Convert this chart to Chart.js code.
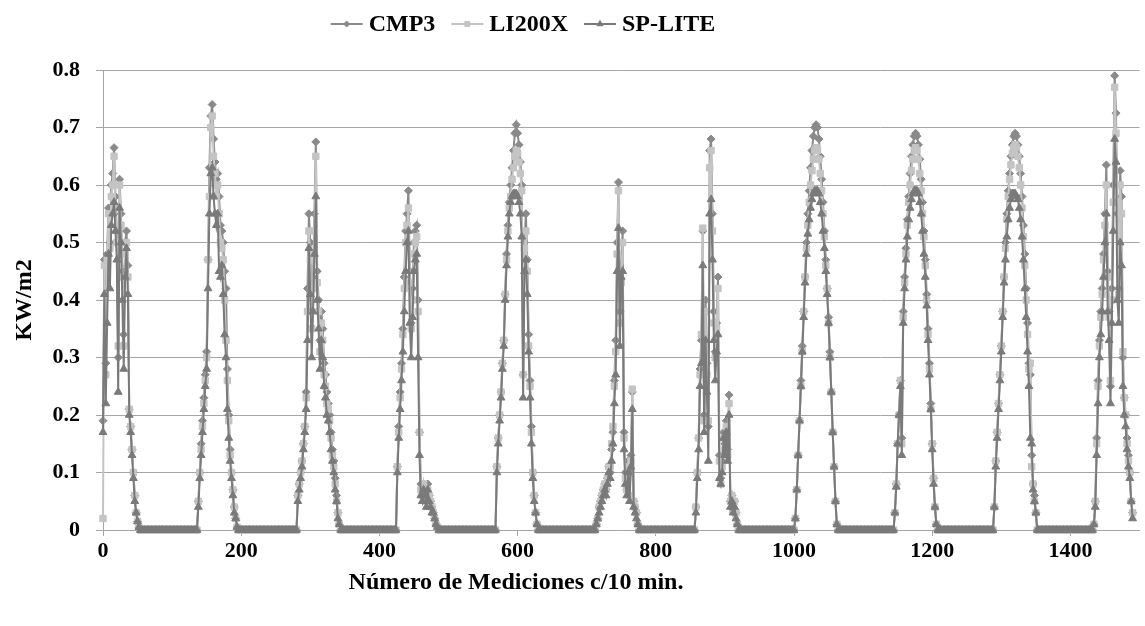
<!DOCTYPE html>
<html>
<head>
<meta charset="utf-8">
<script src="https://cdn.jsdelivr.net/npm/chart.js@4/dist/chart.umd.min.js"></script>
<style>
  html, body { margin: 0; padding: 0; background: #ffffff; }
  #wrap { width: 1145px; height: 626px; position: relative; }
</style>
</head>
<body>
<div id="wrap"><canvas id="chart"></canvas></div>
<script>
// one reading every 2 measurements (x = index * STEP), nights are zero
const STEP = 2;

const seriesNames = ["CMP3", "LI200X", "SP-LITE"];

const cmp3 = [
  0.19,0.47,0.29,0.48,0.56,0.50,0.60,0.62,0.665,0.58,0.52,0.30,0.61,0.55,0.45,0.34,0.50,0.52,0.46,0.21,0.18,0.14,0.10,0.06,0.03,0.015,0.005,0,
  0,0,0,0,0,0,0,0,0,0, 0,0,0,0,0,0,0,0,0,0, 0,0,0,0,0,0,0,0,0,0, 0,0,0,0,0,0,0,0,0,0, 0,
  0.05,0.10,0.15,0.19,0.23,0.27,0.31,0.47,0.63,0.72,0.74,0.68,0.64,0.61,0.62,0.58,0.53,0.52,0.50,0.45,0.42,0.28,0.20,0.14,0.10,0.07,0.04,0.02,0.005,0,0,
  0,0,0,0,0,0,0,0,0,0, 0,0,0,0,0,0,0,0,0,0, 0,0,0,0,0,0,0,0,0,0, 0,0,0,0,0,0,0,0,0,0, 0,
  0.06,0.08,0.10,0.12,0.15,0.18,0.24,0.42,0.55,0.50,0.38,0.44,0.55,0.675,0.45,0.40,0.33,0.38,0.35,0.29,0.27,0.24,0.22,0.20,0.17,0.14,0.12,0.09,0.06,0.03,0.01,
  0,0,0,0,0,0,0,0,0,0, 0,0,0,0,0,0,0,0,0,0, 0,0,0,0,0,0,0,0,0,0, 0,0,0,0,0,0,0,0,0,0, 0,
  0.11,0.18,0.24,0.29,0.35,0.44,0.52,0.55,0.59,0.45,0.36,0.42,0.50,0.52,0.53,0.40,0.17,0.08,0.06,0.08,0.07,0.05,0.08,0.06,0.05,0.04,0.03,0.02,0.01,0.005,0,
  0,0,0,0,0,0,0,0,0,0, 0,0,0,0,0,0,0,0,0,0, 0,0,0,0,0,0,0,0,0,0, 0,0,0,0,0,0,0,0,0,0, 0,
  0.11,0.16,0.20,0.24,0.29,0.33,0.41,0.48,0.53,0.57,0.60,0.63,0.66,0.69,0.705,0.69,0.67,0.64,0.60,0.27,0.50,0.55,0.47,0.34,0.26,0.18,0.10,0.06,0.03,0.01,0,
  0,0,0,0,0,0,0,0,0,0, 0,0,0,0,0,0,0,0,0,0, 0,0,0,0,0,0,0,0,0,0, 0,0,0,0,0,0,0,0,0,0, 0,
  0.01,0.02,0.04,0.05,0.06,0.07,0.08,0.07,0.09,0.11,0.10,0.14,0.17,0.26,0.33,0.50,0.605,0.38,0.45,0.52,0.17,0.10,0.07,0.12,0.06,0.13,0.24,0.05,0.04,0.03,0.01,
  0,0,0,0,0,0,0,0,0,0, 0,0,0,0,0,0,0,0,0,0, 0,0,0,0,0,0,0,0,0,0, 0,0,0,0,0,0,0,0,0,0, 0,
  0.04,0.10,0.16,0.28,0.33,0.52,0.20,0.40,0.29,0.18,0.66,0.68,0.55,0.38,0.31,0.36,0.44,0.13,0.09,0.12,0.17,0.15,0.19,0.14,0.235,0.05,0.06,0.04,0.05,0.03,0.01,
  0,0,0,0,0,0,0,0,0,0, 0,0,0,0,0,0,0,0,0,0, 0,0,0,0,0,0,0,0,0,0, 0,0,0,0,0,0,0,0,0,0, 0,
  0.02,0.07,0.13,0.19,0.26,0.32,0.38,0.44,0.50,0.55,0.59,0.63,0.66,0.685,0.70,0.705,0.70,0.68,0.65,0.61,0.57,0.52,0.47,0.42,0.37,0.31,0.24,0.17,0.11,0.05,0.01,
  0,0,0,0,0,0,0,0,0,0, 0,0,0,0,0,0,0,0,0,0, 0,0,0,0,0,0,0,0,0,0, 0,0,0,0,0,0,0,0,0,0, 0,
  0.03,0.08,0.15,0.20,0.26,0.16,0.38,0.44,0.49,0.54,0.58,0.62,0.65,0.67,0.685,0.69,0.685,0.67,0.645,0.61,0.57,0.52,0.47,0.41,0.35,0.29,0.22,0.15,0.09,0.04,0.01,
  0,0,0,0,0,0,0,0,0,0, 0,0,0,0,0,0,0,0,0,0, 0,0,0,0,0,0,0,0,0,0, 0,0,0,0,0,0,0,0,0,0, 0,
  0.04,0.12,0.17,0.22,0.27,0.32,0.38,0.44,0.50,0.55,0.59,0.62,0.65,0.67,0.685,0.69,0.685,0.67,0.65,0.62,0.58,0.53,0.48,0.42,0.36,0.29,0.27,0.13,0.08,0.06,0.03,
  0,0,0,0,0,0,0,0,0,0, 0,0,0,0,0,0,0,0,0,0, 0,0,0,0,0,0,0,0,0,0, 0,0,0,0,0,0,0,0,0,0, 0,
  0.01,0.05,0.16,0.26,0.33,0.38,0.42,0.48,0.55,0.635,0.45,0.38,0.25,0.42,0.60,0.79,0.725,0.55,0.42,0.625,0.58,0.30,0.23,0.20,0.16,0.13,0.10,0.05,0.03
];

const li200x = [
  0.02,0.46,0.27,0.47,0.55,0.49,0.58,0.60,0.65,0.56,0.50,0.32,0.60,0.53,0.44,0.32,0.48,0.50,0.44,0.21,0.18,0.14,0.10,0.06,0.03,0.015,0.005,0,
  0,0,0,0,0,0,0,0,0,0, 0,0,0,0,0,0,0,0,0,0, 0,0,0,0,0,0,0,0,0,0, 0,0,0,0,0,0,0,0,0,0, 0,
  0.05,0.10,0.14,0.18,0.22,0.26,0.30,0.47,0.58,0.70,0.72,0.65,0.62,0.58,0.60,0.55,0.50,0.49,0.47,0.40,0.33,0.26,0.19,0.13,0.10,0.07,0.04,0.02,0.005,0,0,
  0,0,0,0,0,0,0,0,0,0, 0,0,0,0,0,0,0,0,0,0, 0,0,0,0,0,0,0,0,0,0, 0,0,0,0,0,0,0,0,0,0, 0,
  0.06,0.08,0.10,0.12,0.15,0.18,0.23,0.38,0.52,0.47,0.35,0.42,0.52,0.65,0.43,0.38,0.31,0.36,0.33,0.27,0.25,0.22,0.21,0.19,0.16,0.13,0.11,0.08,0.05,0.03,0.01,
  0,0,0,0,0,0,0,0,0,0, 0,0,0,0,0,0,0,0,0,0, 0,0,0,0,0,0,0,0,0,0, 0,0,0,0,0,0,0,0,0,0, 0,
  0.11,0.17,0.23,0.28,0.34,0.42,0.50,0.53,0.56,0.43,0.35,0.40,0.48,0.50,0.51,0.38,0.17,0.07,0.06,0.08,0.06,0.05,0.07,0.06,0.05,0.04,0.03,0.02,0.01,0.005,0,
  0,0,0,0,0,0,0,0,0,0, 0,0,0,0,0,0,0,0,0,0, 0,0,0,0,0,0,0,0,0,0, 0,0,0,0,0,0,0,0,0,0, 0,
  0.11,0.16,0.20,0.24,0.29,0.33,0.41,0.47,0.52,0.56,0.58,0.61,0.63,0.65,0.66,0.655,0.64,0.62,0.59,0.27,0.49,0.52,0.45,0.32,0.25,0.17,0.10,0.06,0.03,0.01,0,
  0,0,0,0,0,0,0,0,0,0, 0,0,0,0,0,0,0,0,0,0, 0,0,0,0,0,0,0,0,0,0, 0,0,0,0,0,0,0,0,0,0, 0,
  0.01,0.02,0.04,0.05,0.06,0.07,0.08,0.07,0.09,0.11,0.11,0.15,0.18,0.25,0.31,0.48,0.59,0.36,0.43,0.50,0.16,0.09,0.07,0.11,0.06,0.12,0.245,0.05,0.04,0.03,0.01,
  0,0,0,0,0,0,0,0,0,0, 0,0,0,0,0,0,0,0,0,0, 0,0,0,0,0,0,0,0,0,0, 0,0,0,0,0,0,0,0,0,0, 0,
  0.04,0.10,0.16,0.27,0.34,0.525,0.19,0.38,0.27,0.19,0.63,0.66,0.52,0.36,0.30,0.35,0.42,0.12,0.08,0.11,0.16,0.14,0.18,0.13,0.22,0.05,0.06,0.04,0.05,0.03,0.01,
  0,0,0,0,0,0,0,0,0,0, 0,0,0,0,0,0,0,0,0,0, 0,0,0,0,0,0,0,0,0,0, 0,0,0,0,0,0,0,0,0,0, 0,
  0.02,0.07,0.13,0.19,0.25,0.31,0.38,0.44,0.49,0.53,0.57,0.60,0.625,0.645,0.66,0.665,0.66,0.645,0.62,0.59,0.55,0.51,0.46,0.42,0.36,0.30,0.24,0.17,0.11,0.05,0.01,
  0,0,0,0,0,0,0,0,0,0, 0,0,0,0,0,0,0,0,0,0, 0,0,0,0,0,0,0,0,0,0, 0,0,0,0,0,0,0,0,0,0, 0,
  0.03,0.08,0.15,0.20,0.26,0.15,0.37,0.43,0.48,0.53,0.57,0.60,0.625,0.645,0.66,0.665,0.66,0.645,0.62,0.59,0.55,0.51,0.46,0.40,0.34,0.28,0.21,0.15,0.09,0.04,0.01,
  0,0,0,0,0,0,0,0,0,0, 0,0,0,0,0,0,0,0,0,0, 0,0,0,0,0,0,0,0,0,0, 0,0,0,0,0,0,0,0,0,0, 0,
  0.04,0.12,0.17,0.22,0.27,0.32,0.38,0.44,0.49,0.54,0.58,0.61,0.635,0.655,0.665,0.67,0.665,0.65,0.63,0.60,0.56,0.51,0.46,0.40,0.34,0.28,0.29,0.11,0.08,0.05,0.03,
  0,0,0,0,0,0,0,0,0,0, 0,0,0,0,0,0,0,0,0,0, 0,0,0,0,0,0,0,0,0,0, 0,0,0,0,0,0,0,0,0,0, 0,
  0.01,0.05,0.15,0.25,0.32,0.37,0.41,0.47,0.53,0.60,0.44,0.37,0.26,0.40,0.57,0.77,0.69,0.57,0.41,0.60,0.55,0.31,0.23,0.20,0.15,0.12,0.10,0.05,0.03
];

const spLite = [
  0.17,0.41,0.22,0.36,0.48,0.42,0.53,0.55,0.57,0.52,0.47,0.24,0.56,0.50,0.40,0.28,0.44,0.49,0.41,0.20,0.17,0.13,0.09,0.05,0.03,0.015,0.005,0,
  0,0,0,0,0,0,0,0,0,0, 0,0,0,0,0,0,0,0,0,0, 0,0,0,0,0,0,0,0,0,0, 0,0,0,0,0,0,0,0,0,0, 0,
  0.04,0.09,0.13,0.17,0.21,0.25,0.28,0.42,0.55,0.62,0.63,0.58,0.55,0.53,0.55,0.45,0.44,0.46,0.41,0.34,0.30,0.21,0.16,0.12,0.09,0.06,0.03,0.02,0.005,0,0,
  0,0,0,0,0,0,0,0,0,0, 0,0,0,0,0,0,0,0,0,0, 0,0,0,0,0,0,0,0,0,0, 0,0,0,0,0,0,0,0,0,0, 0,
  0.05,0.07,0.09,0.11,0.14,0.17,0.21,0.33,0.49,0.41,0.30,0.38,0.48,0.58,0.40,0.35,0.28,0.33,0.30,0.25,0.23,0.20,0.19,0.17,0.14,0.12,0.10,0.07,0.05,0.02,0.01,
  0,0,0,0,0,0,0,0,0,0, 0,0,0,0,0,0,0,0,0,0, 0,0,0,0,0,0,0,0,0,0, 0,0,0,0,0,0,0,0,0,0, 0,
  0.10,0.16,0.21,0.26,0.31,0.38,0.45,0.50,0.52,0.36,0.30,0.37,0.45,0.47,0.48,0.30,0.13,0.06,0.05,0.07,0.06,0.04,0.07,0.05,0.04,0.03,0.03,0.02,0.01,0.005,0,
  0,0,0,0,0,0,0,0,0,0, 0,0,0,0,0,0,0,0,0,0, 0,0,0,0,0,0,0,0,0,0, 0,0,0,0,0,0,0,0,0,0, 0,
  0.10,0.15,0.19,0.23,0.28,0.32,0.40,0.46,0.51,0.55,0.57,0.58,0.585,0.585,0.585,0.58,0.57,0.55,0.51,0.23,0.45,0.47,0.41,0.31,0.23,0.15,0.09,0.05,0.03,0.01,0,
  0,0,0,0,0,0,0,0,0,0, 0,0,0,0,0,0,0,0,0,0, 0,0,0,0,0,0,0,0,0,0, 0,0,0,0,0,0,0,0,0,0, 0,
  0.01,0.02,0.03,0.04,0.05,0.06,0.07,0.06,0.08,0.10,0.09,0.12,0.15,0.22,0.27,0.45,0.525,0.32,0.44,0.45,0.14,0.08,0.06,0.10,0.05,0.11,0.21,0.04,0.03,0.02,0.01,
  0,0,0,0,0,0,0,0,0,0, 0,0,0,0,0,0,0,0,0,0, 0,0,0,0,0,0,0,0,0,0, 0,0,0,0,0,0,0,0,0,0, 0,
  0.03,0.09,0.14,0.25,0.29,0.46,0.17,0.33,0.24,0.12,0.55,0.575,0.47,0.33,0.26,0.31,0.34,0.09,0.08,0.10,0.16,0.13,0.17,0.12,0.20,0.04,0.05,0.03,0.04,0.02,0.01,
  0,0,0,0,0,0,0,0,0,0, 0,0,0,0,0,0,0,0,0,0, 0,0,0,0,0,0,0,0,0,0, 0,0,0,0,0,0,0,0,0,0, 0,
  0.02,0.07,0.13,0.19,0.25,0.31,0.37,0.43,0.48,0.515,0.54,0.56,0.575,0.585,0.59,0.59,0.59,0.585,0.57,0.55,0.52,0.49,0.45,0.41,0.36,0.30,0.24,0.17,0.11,0.05,0.01,
  0,0,0,0,0,0,0,0,0,0, 0,0,0,0,0,0,0,0,0,0, 0,0,0,0,0,0,0,0,0,0, 0,0,0,0,0,0,0,0,0,0, 0,
  0.03,0.075,0.15,0.20,0.25,0.13,0.36,0.42,0.47,0.51,0.54,0.56,0.575,0.585,0.59,0.59,0.59,0.585,0.57,0.55,0.52,0.48,0.44,0.39,0.33,0.27,0.21,0.14,0.08,0.04,0.01,
  0,0,0,0,0,0,0,0,0,0, 0,0,0,0,0,0,0,0,0,0, 0,0,0,0,0,0,0,0,0,0, 0,0,0,0,0,0,0,0,0,0, 0,
  0.04,0.11,0.16,0.21,0.26,0.31,0.37,0.43,0.47,0.51,0.54,0.56,0.575,0.585,0.585,0.585,0.58,0.575,0.56,0.54,0.51,0.47,0.42,0.37,0.31,0.25,0.16,0.15,0.07,0.05,0.03,
  0,0,0,0,0,0,0,0,0,0, 0,0,0,0,0,0,0,0,0,0, 0,0,0,0,0,0,0,0,0,0, 0,0,0,0,0,0,0,0,0,0, 0,
  0.01,0.04,0.13,0.22,0.30,0.34,0.38,0.44,0.50,0.55,0.38,0.33,0.22,0.36,0.52,0.68,0.64,0.40,0.36,0.50,0.46,0.25,0.20,0.18,0.14,0.11,0.09,0.05,0.02
];

const xTickValues = [0, 200, 400, 600, 800, 1000, 1200, 1400];
const yTickValues = [0, 0.1, 0.2, 0.3, 0.4, 0.5, 0.6, 0.7, 0.8];

const colors = { cmp3: "#8a8a8a", li200x: "#c4c4c4", spLite: "#7a7a7a" };
const gridColor = "#a6a6a6";
const fontFamily = "'Liberation Serif', 'Times New Roman', serif";

function toPoints(values) {
  return values.map((v, i) => ({ x: i * STEP, y: v }));
}

const datasets = [
  { label: seriesNames[0], data: toPoints(cmp3), borderColor: colors.cmp3, backgroundColor: colors.cmp3,
    pointStyle: "rectRot", pointRadius: 4, order: 3 },
  { label: seriesNames[1], data: toPoints(li200x), borderColor: colors.li200x, backgroundColor: colors.li200x,
    pointStyle: "rect", pointRadius: 4.5, order: 2 },
  { label: seriesNames[2], data: toPoints(spLite), borderColor: colors.spLite, backgroundColor: colors.spLite,
    pointStyle: "triangle", pointRadius: 4.5, order: 1 }
];
datasets.forEach(ds => {
  ds.borderWidth = 2;
  ds.pointBorderWidth = 1;
  ds.pointBorderColor = ds.borderColor;
  ds.pointBackgroundColor = ds.backgroundColor;
  ds.tension = 0;
  ds.clip = false;
});

// legend and x title sit left of the plot centre, like the Excel original
const excelText = {
  id: "excelText",
  afterDraw(chart) {
    const ctx = chart.ctx;
    ctx.save();
    ctx.font = "bold 24px " + fontFamily;
    const lineLen = 32, gapIcon = 6, gapItem = 16;
    const widths = datasets.map(ds => ctx.measureText(ds.label).width);
    let total = gapItem * (datasets.length - 1);
    widths.forEach(w => { total += lineLen + gapIcon + w; });
    let x = 523 - total / 2;
    const y = 24;
    datasets.forEach((ds, i) => {
      ctx.strokeStyle = ds.borderColor;
      ctx.lineWidth = 2;
      ctx.beginPath();
      ctx.moveTo(x, y);
      ctx.lineTo(x + lineLen, y);
      ctx.stroke();
      ctx.fillStyle = ds.backgroundColor;
      ctx.lineWidth = 1;
      Chart.helpers.drawPoint(ctx, { pointStyle: ds.pointStyle, radius: ds.pointRadius - 1, rotation: 0, borderWidth: 1 }, x + lineLen / 2, y);
      ctx.fillStyle = "#000";
      ctx.textAlign = "left";
      ctx.textBaseline = "middle";
      ctx.fillText(ds.label, x + lineLen + gapIcon, y + 1);
      x += lineLen + gapIcon + widths[i] + gapItem;
    });
    ctx.font = "bold 24px " + fontFamily;
    ctx.textAlign = "center";
    ctx.textBaseline = "middle";
    ctx.fillStyle = "#000";
    ctx.fillText("Número de Mediciones c/10 min.", 516, 583);
    ctx.restore();
  }
};

new Chart(document.getElementById("chart"), {
  type: "line",
  data: { datasets: datasets },
  options: {
    responsive: true,
    maintainAspectRatio: false,
    animation: false,
    layout: { padding: { top: 70, right: 0, bottom: 0, left: 0 } },
    plugins: {
      legend: { display: false },
      tooltip: { enabled: false }
    },
    scales: {
      x: {
        type: "linear",
        min: 0,
        max: 1500,
        afterFit(scale) { scale.height = 96; },
        afterBuildTicks(scale) { scale.ticks = xTickValues.map(v => ({ value: v })); },
        ticks: {
          color: "#000",
          font: { family: fontFamily, size: 22, weight: "bold" },
          padding: 2,
          maxRotation: 0,
          callback: v => String(v)
        },
        grid: { drawOnChartArea: false, drawTicks: true, tickLength: 6, color: gridColor },
        border: { display: true, color: gridColor, width: 1 }
      },
      y: {
        min: 0,
        max: 0.8,
        afterFit(scale) { scale.width = 103; },
        afterBuildTicks(scale) { scale.ticks = yTickValues.map(v => ({ value: v })); },
        ticks: {
          color: "#000",
          font: { family: fontFamily, size: 22, weight: "bold" },
          padding: 16,
          callback: v => (v === 0 ? "0" : v.toFixed(1))
        },
        grid: { color: gridColor, lineWidth: 1, tickLength: 7 },
        border: { display: true, color: gridColor, width: 1 },
        title: {
          display: true,
          text: "KW/m2",
          color: "#000",
          font: { family: fontFamily, size: 24, weight: "bold" },
          padding: { top: 10, bottom: 0 }
        }
      }
    }
  },
  plugins: [excelText]
});
</script>
</body>
</html>
